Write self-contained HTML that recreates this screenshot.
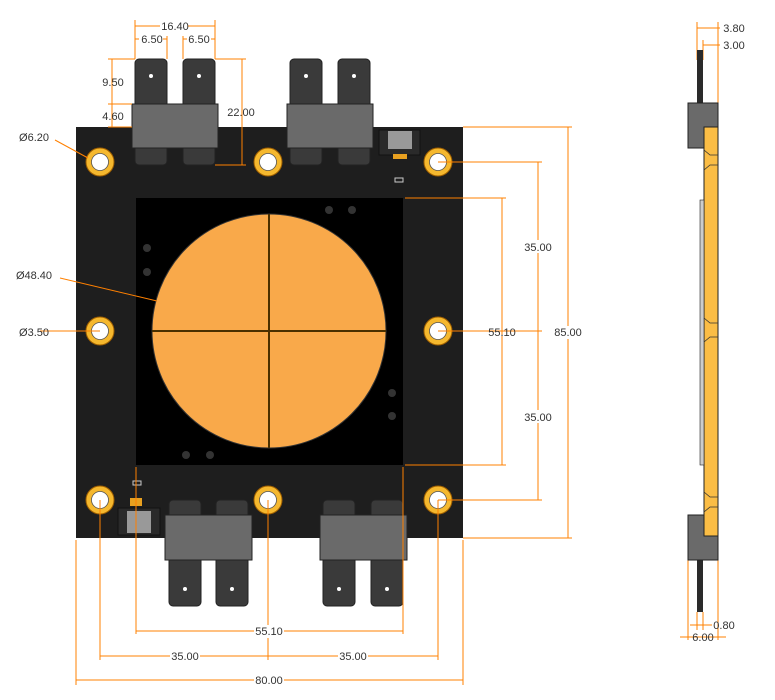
<!DOCTYPE html>
<html><head><style>body{margin:0;background:#fff}svg{display:block}text{font-family:"Liberation Sans",sans-serif;font-size:11px;fill:#333}</style></head><body>
<svg width="775" height="700" viewBox="0 0 775 700" xmlns="http://www.w3.org/2000/svg">
<defs>
<g id="hole"><circle r="14" fill="#f5b82e" stroke="#a06000" stroke-width="1"/><circle r="8.5" fill="#fff" stroke="#555" stroke-width="0.8"/></g>
</defs>
<!-- board -->
<rect x="76" y="127" width="387" height="411" fill="#1e1e1e"/>
<rect x="136" y="198" width="267" height="267" fill="#000"/>
<circle cx="269" cy="331" r="117" fill="#f9a94a" stroke="#333" stroke-width="1"/>
<line x1="269" y1="214" x2="269" y2="448" stroke="#4a3000" stroke-width="2"/>
<line x1="152" y1="331" x2="386" y2="331" stroke="#4a3000" stroke-width="2"/>
<g fill="#333"><circle cx="329" cy="210" r="4"/><circle cx="352" cy="210" r="4"/><circle cx="147" cy="248" r="4"/><circle cx="147" cy="272" r="4"/><circle cx="392" cy="393" r="4"/><circle cx="392" cy="416" r="4"/><circle cx="186" cy="455" r="4"/><circle cx="210" cy="455" r="4"/></g>
<use href="#hole" x="100" y="162"/><use href="#hole" x="268" y="162"/><use href="#hole" x="438" y="162"/>
<use href="#hole" x="100" y="331"/><use href="#hole" x="438" y="331"/>
<use href="#hole" x="100" y="500"/><use href="#hole" x="268" y="500"/><use href="#hole" x="438" y="500"/>
<!-- top connectors -->
<g fill="#3a3a3a" stroke="#222"><rect x="135" y="59" width="32" height="106" rx="4"/><rect x="183" y="59" width="32" height="106" rx="4"/><rect x="290" y="59" width="32" height="106" rx="4"/><rect x="338" y="59" width="32" height="106" rx="4"/>
<rect x="169" y="500" width="32" height="106" rx="4"/><rect x="216" y="500" width="32" height="106" rx="4"/><rect x="323" y="500" width="32" height="106" rx="4"/><rect x="371" y="500" width="32" height="106" rx="4"/></g>
<g fill="#fff"><circle cx="151" cy="76" r="2"/><circle cx="199" cy="76" r="2"/><circle cx="306" cy="76" r="2"/><circle cx="354" cy="76" r="2"/><circle cx="185" cy="589" r="2"/><circle cx="232" cy="589" r="2"/><circle cx="339" cy="589" r="2"/><circle cx="387" cy="589" r="2"/></g>
<g fill="#6a6a6a" stroke="#222"><rect x="132" y="104" width="86" height="44"/><rect x="287" y="104" width="86" height="44"/><rect x="165" y="515" width="87" height="45"/><rect x="320" y="515" width="87" height="45"/></g>
<!-- small connectors -->
<rect x="379" y="130" width="41" height="25" fill="#2a2a2a" stroke="#111"/><rect x="388" y="131" width="24" height="18" fill="#999"/><rect x="393" y="154" width="14" height="5" fill="#e8a020"/>
<rect x="118" y="508" width="42" height="27" fill="#2a2a2a" stroke="#111"/><rect x="127" y="511" width="24" height="22" fill="#999"/><rect x="130" y="498" width="12" height="8" fill="#e8a020"/>
<rect x="395" y="178" width="8" height="4" fill="none" stroke="#ccc"/><rect x="133" y="481" width="8" height="4" fill="none" stroke="#ccc"/>
<!-- dims -->
<g stroke="#ff8000" stroke-width="1" fill="none">
<line x1="76" y1="540" x2="76" y2="685"/><line x1="463" y1="540" x2="463" y2="685"/><line x1="76" y1="680" x2="463" y2="680"/>
<line x1="100" y1="500" x2="100" y2="660"/><line x1="268" y1="500" x2="268" y2="660"/><line x1="438" y1="500" x2="438" y2="660"/><line x1="100" y1="656" x2="438" y2="656"/>
<line x1="136" y1="467" x2="136" y2="634"/><line x1="403" y1="467" x2="403" y2="634"/><line x1="136" y1="631" x2="403" y2="631"/>
<line x1="463" y1="127" x2="572" y2="127"/><line x1="463" y1="538" x2="572" y2="538"/><line x1="568" y1="127" x2="568" y2="538"/>
<line x1="405" y1="198" x2="506" y2="198"/><line x1="405" y1="465" x2="506" y2="465"/><line x1="502" y1="198" x2="502" y2="465"/>
<line x1="438" y1="162" x2="542" y2="162"/><line x1="438" y1="331" x2="542" y2="331"/><line x1="438" y1="500" x2="542" y2="500"/><line x1="538" y1="162" x2="538" y2="500"/>
<line x1="135" y1="20" x2="135" y2="59"/><line x1="215" y1="20" x2="215" y2="59"/><line x1="135" y1="26" x2="215" y2="26"/>
<line x1="167" y1="36" x2="167" y2="59"/><line x1="183" y1="36" x2="183" y2="59"/><line x1="135" y1="39" x2="167" y2="39"/><line x1="183" y1="39" x2="215" y2="39"/>
<line x1="108" y1="59" x2="135" y2="59"/><line x1="108" y1="104" x2="132" y2="104"/><line x1="108" y1="127" x2="132" y2="127"/><line x1="112" y1="59" x2="112" y2="127"/>
<line x1="215" y1="59" x2="246" y2="59"/><line x1="215" y1="165" x2="246" y2="165"/><line x1="242" y1="59" x2="242" y2="165"/>
<line x1="55" y1="140" x2="88" y2="158"/><line x1="60" y1="278" x2="157" y2="301"/><line x1="40" y1="331" x2="100" y2="331"/>
<line x1="697" y1="22" x2="697" y2="60"/><line x1="703" y1="40" x2="703" y2="60"/><line x1="718" y1="22" x2="718" y2="620"/><line x1="697" y1="28" x2="720" y2="28"/><line x1="703" y1="45" x2="720" y2="45"/>
<line x1="688" y1="560" x2="688" y2="640"/><line x1="697" y1="612" x2="697" y2="630"/><line x1="703" y1="612" x2="703" y2="630"/><line x1="718" y1="620" x2="718" y2="640"/>
<line x1="680" y1="637" x2="726" y2="637"/><line x1="690" y1="625" x2="712" y2="625"/>
</g>
<!-- side view -->
<rect x="697" y="50" width="6" height="60" fill="#2a2a2a"/>
<rect x="697" y="555" width="6" height="57" fill="#2a2a2a"/>
<rect x="688" y="103" width="30" height="45" fill="#6a6a6a" stroke="#222"/>
<rect x="688" y="515" width="30" height="45" fill="#6a6a6a" stroke="#222"/>
<rect x="704" y="127" width="14" height="409" fill="#fbbd45" stroke="#222"/>
<rect x="700" y="200" width="4" height="265" fill="#ccc" stroke="#222" stroke-width="0.6"/>
<g stroke="#333" fill="none" stroke-width="0.8"><path d="M704 150 L710 155 L718 155"/><path d="M704 170 L710 165 L718 165"/><path d="M704 318 L710 323 L718 323"/><path d="M704 342 L710 337 L718 337"/><path d="M704 492 L710 497 L718 497"/><path d="M704 512 L710 507 L718 507"/></g>
<!-- labels -->
<g text-anchor="middle">
<rect x="160" y="19" width="28" height="13" fill="#fff"/><text x="175" y="30">16.40</text>
<rect x="139" y="33" width="24" height="12" fill="#fff"/><text x="152" y="43">6.50</text>
<rect x="187" y="33" width="24" height="12" fill="#fff"/><text x="199" y="43">6.50</text>
<text x="113" y="86">9.50</text><text x="113" y="120">4.60</text>
<text x="241" y="116">22.00</text>
<text x="34" y="141">Ø6.20</text><text x="34" y="279">Ø48.40</text><text x="34" y="336">Ø3.50</text>
<rect x="488" y="326" width="30" height="13" fill="none"/><text x="502" y="336">55.10</text>
<rect x="553" y="326" width="30" height="13" fill="#fff"/><text x="568" y="336">85.00</text>
<rect x="523" y="240" width="30" height="13" fill="#fff"/><text x="538" y="251">35.00</text>
<rect x="523" y="410" width="30" height="13" fill="#fff"/><text x="538" y="421">35.00</text>
<rect x="254" y="625" width="30" height="13" fill="#fff"/><text x="269" y="635">55.10</text>
<rect x="170" y="650" width="30" height="13" fill="#fff"/><text x="185" y="660">35.00</text>
<rect x="338" y="650" width="30" height="13" fill="#fff"/><text x="353" y="660">35.00</text>
<rect x="254" y="674" width="30" height="13" fill="#fff"/><text x="269" y="684">80.00</text>
<text x="734" y="32">3.80</text><text x="734" y="49">3.00</text>
<text x="724" y="629">0.80</text><text x="703" y="641">6.00</text>
</g>
</svg>
</body></html>
